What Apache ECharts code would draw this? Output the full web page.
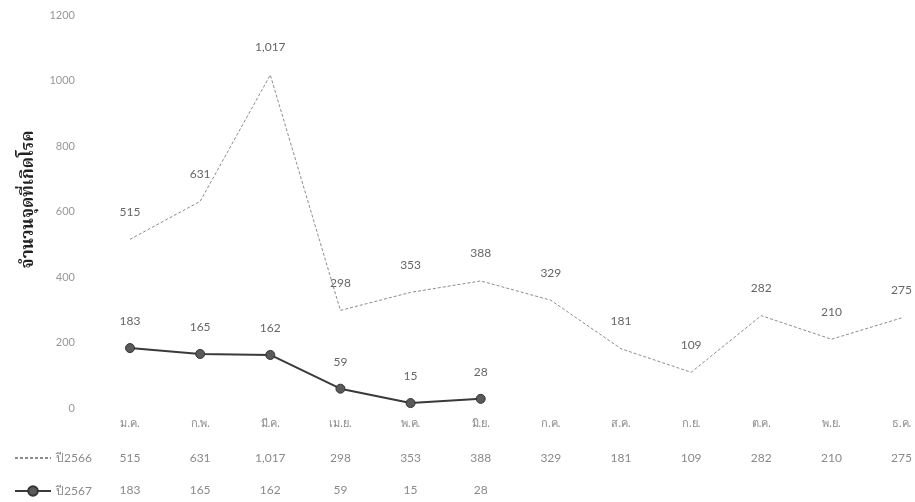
<!DOCTYPE html>
<html>
<head>
<meta charset="utf-8">
<script src="https://cdn.jsdelivr.net/npm/echarts@6/dist/echarts.min.js"></script>
<style>
html,body{margin:0;padding:0;background:#fff;}
#c{width:915px;height:502px;}
</style>
</head>
<body>
<div id="c"></div>
<script>
const months = ['ม.ค.','ก.พ.','มี.ค.','เม.ย.','พ.ค.','มิ.ย.','ก.ค.','ส.ค.','ก.ย.','ต.ค.','พ.ย.','ธ.ค.'];
const y2566 = [515, 631, 1017, 298, 353, 388, 329, 181, 109, 282, 210, 275];
const y2567 = [183, 165, 162, 59, 15, 28];
const yTicks = [0, 200, 400, 600, 800, 1000, 1200];
const seriesNames = ['ปี2566', 'ปี2567'];
const yAxisTitle = 'จำนวนจุดที่เกิดโรค';

const fmt = v => (v == null ? '' : v.toLocaleString('en-US'));
const row1 = months.map((m, i) => fmt(y2566[i]));
const row2 = months.map((m, i) => fmt(y2567[i]));

const fontFam = 'Lato, "Noto Sans", sans-serif';
const gray = '#8a8a8a';

function tableAxis(data, margin) {
  return {
    type: 'category', data: data, boundaryGap: false, position: 'bottom',
    axisLine: {show: false}, axisTick: {show: false}, splitLine: {show: false},
    axisLabel: {margin: margin, color: gray, fontSize: 12, fontFamily: fontFam, interval: 0}
  };
}

function legendFor(name, top) {
  return {
    orient: 'horizontal', left: 14, top: top, itemWidth: 36, itemHeight: 12, padding: 0,
    textStyle: {color: gray, fontSize: 12, fontFamily: fontFam},
    data: [name]
  };
}

const chart = echarts.init(document.getElementById('c'));
chart.setOption({
  animation: false,
  backgroundColor: '#fff',
  textStyle: {fontFamily: fontFam},
  grid: {left: 130, right: 12, top: 15, bottom: 94, containLabel: false},
  legend: [legendFor(seriesNames[0], 452), legendFor(seriesNames[1], 485)],
  xAxis: [
    {
      type: 'category', data: months, boundaryGap: false,
      axisLine: {show: false}, axisTick: {show: false}, splitLine: {show: false},
      axisLabel: {margin: 10, color: gray, fontSize: 11, fontFamily: fontFam, interval: 0}
    },
    tableAxis(row1, 44),
    tableAxis(row2, 76)
  ],
  yAxis: {
    type: 'value', min: yTicks[0], max: yTicks[yTicks.length - 1], interval: 200,
    axisLine: {show: false}, axisTick: {show: false}, splitLine: {show: false},
    axisLabel: {margin: 55, color: '#999', fontSize: 11, fontFamily: fontFam, formatter: v => String(v)},
    name: yAxisTitle, nameLocation: 'middle', nameGap: 90, nameRotate: 90,
    nameTextStyle: {color: '#222', fontSize: 17, fontWeight: 'bold', padding: [0, 0, 0, 24],
      fontFamily: '"Noto Serif Thai","Noto Sans Thai", "DejaVu Serif", serif', align: 'center'}
  },
  series: [
    {
      name: seriesNames[0], type: 'line', data: y2566, symbol: 'circle', symbolSize: 1, showSymbol: true,
      lineStyle: {color: '#8c8c8c', width: 1, type: [3, 2]},
      itemStyle: {color: 'rgba(0,0,0,0)', borderWidth: 0},
      label: {show: true, position: 'top', distance: 21, color: '#666', fontSize: 12, fontFamily: fontFam,
        formatter: p => fmt(p.value)}
    },
    {
      name: seriesNames[1], type: 'line', data: y2567, symbol: 'circle', symbolSize: 9,
      lineStyle: {color: '#3a3a3a', width: 2},
      itemStyle: {color: '#5a5a5a', borderColor: '#333', borderWidth: 1},
      label: {show: true, position: 'top', distance: 16, color: '#666', fontSize: 12, fontFamily: fontFam}
    }
  ]
});
</script>
</body>
</html>
